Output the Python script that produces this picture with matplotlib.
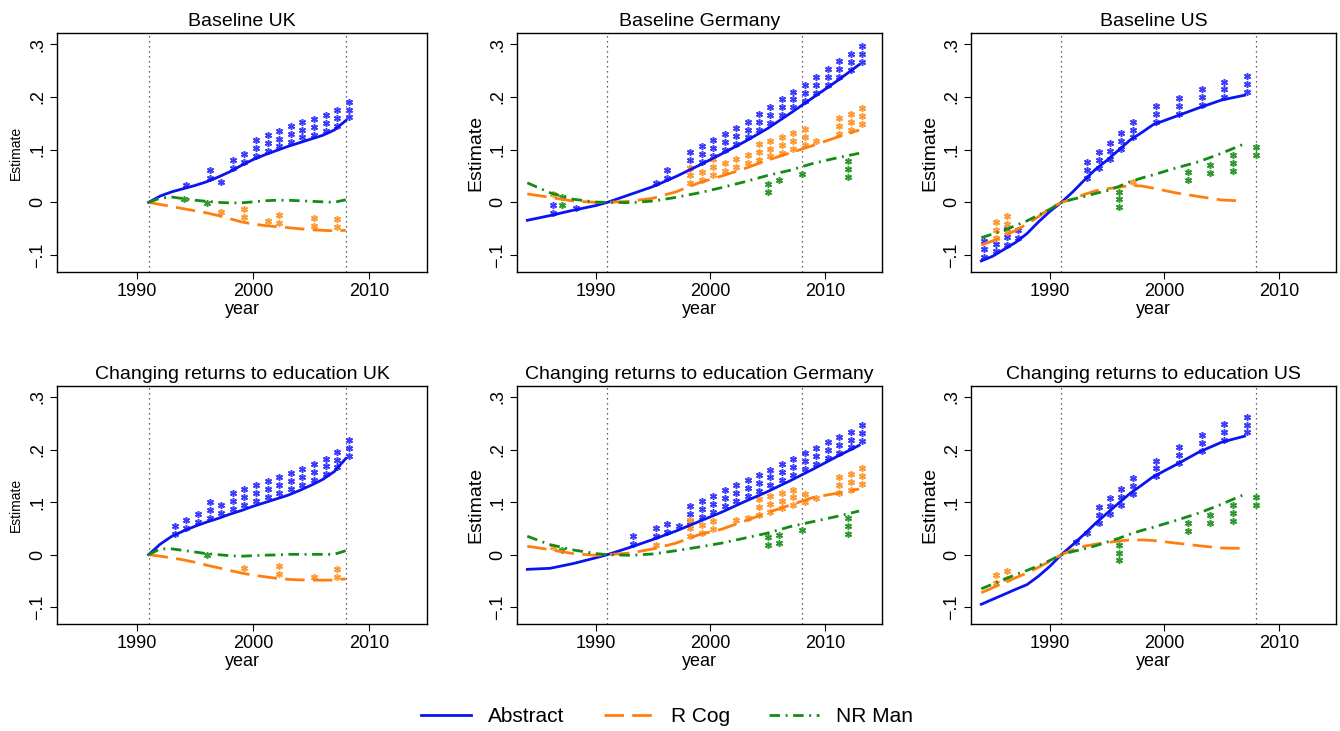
import matplotlib
matplotlib.use('Agg')
import matplotlib.pyplot as plt
from matplotlib.lines import Line2D
from matplotlib.ticker import FuncFormatter

plt.rcParams['font.family'] = ['Liberation Sans', 'DejaVu Sans']

# ---- data ----
series_names = ['Abstract', 'R Cog', 'NR Man']

# UK (1991-2008)
uk_years = [1991, 1992, 1993, 1994, 1995, 1996, 1997, 1998, 1999, 2000,
            2001, 2002, 2003, 2004, 2005, 2006, 2007, 2008]
uk_base_abs = [0, 0.012, 0.020, 0.026, 0.032, 0.039, 0.048, 0.058, 0.070, 0.081,
               0.090, 0.098, 0.106, 0.113, 0.120, 0.127, 0.137, 0.155]
uk_base_rcog = [0, -0.004, -0.008, -0.012, -0.016, -0.020, -0.025, -0.031, -0.037, -0.041,
                -0.044, -0.046, -0.048, -0.050, -0.052, -0.053, -0.054, -0.053]
uk_base_nrman = [0, 0.008, 0.010, 0.007, 0.004, 0.002, 0.000, -0.001, -0.001, 0.001,
                 0.003, 0.004, 0.004, 0.003, 0.002, 0.001, 0.000, 0.005]
uk_chg_abs = [0, 0.020, 0.035, 0.045, 0.054, 0.062, 0.069, 0.077, 0.084, 0.092,
              0.099, 0.106, 0.113, 0.122, 0.132, 0.143, 0.158, 0.183]
uk_chg_rcog = [0, -0.003, -0.006, -0.010, -0.0145, -0.020, -0.025, -0.030, -0.035, -0.039,
               -0.042, -0.045, -0.047, -0.048, -0.0485, -0.0485, -0.0485, -0.046]
uk_chg_nrman = [0, 0.011, 0.011, 0.008, 0.005, 0.002, 0.000, -0.002, -0.003, -0.002,
                -0.001, -0.0005, 0.0006, 0.0006, 0.0006, 0.0006, 0.0006, 0.0075]

# Germany (1984-2013)
de_years = [1984, 1986, 1988, 1990, 1991, 1993, 1995, 1997, 1999, 2001,
            2003, 2005, 2007, 2009, 2011, 2013]
de_base_abs = [-0.034, -0.025, -0.015, -0.006, 0, 0.015, 0.030, 0.049, 0.070, 0.092,
               0.115, 0.140, 0.169, 0.199, 0.229, 0.261]
de_base_rcog = [0.016, 0.0095, 0.0025, 0.000, 0, 0.002, 0.008, 0.020, 0.037, 0.050,
                0.064, 0.080, 0.094, 0.108, 0.123, 0.137]
de_base_nrman = [0.037, 0.018, 0.006, 0.0005, 0, -0.0006, 0.0025, 0.0095, 0.018, 0.028,
                 0.039, 0.051, 0.061, 0.074, 0.084, 0.093]
de_chg_abs = [-0.028, -0.026, -0.017, -0.006, 0, 0.014, 0.029, 0.045, 0.063, 0.081,
              0.101, 0.120, 0.141, 0.163, 0.186, 0.208]
de_chg_rcog = [0.016, 0.0095, 0.002, -0.0013, 0, 0.003, 0.011, 0.022, 0.038, 0.0485,
               0.064, 0.080, 0.0945, 0.109, 0.1165, 0.125]
de_chg_nrman = [0.035, 0.019, 0.009, 0.002, 0, -0.0013, 0.0013, 0.0076, 0.0145, 0.022,
                0.0315, 0.041, 0.0535, 0.063, 0.0725, 0.083]

# US (1984-2007)
us_years = [1984, 1985, 1986, 1987, 1988, 1989, 1990, 1991, 1992, 1993,
            1994, 1995, 1996, 1997, 1998, 1999, 2001, 2003, 2005, 2007]
us_base_abs = [-0.111, -0.102, -0.089, -0.076, -0.059, -0.037, -0.017, 0, 0.020, 0.042,
               0.063, 0.080, 0.099, 0.118, 0.132, 0.147, 0.163, 0.179, 0.194, 0.203]
us_base_rcog = [-0.081, -0.073, -0.064, -0.053, -0.041, -0.027, -0.011, 0, 0.006, 0.015,
                0.022, 0.026, 0.0285, 0.032, 0.031, 0.027, 0.018, 0.011, 0.0045, 0.0025]
us_base_nrman = [-0.067, -0.060, -0.053, -0.044, -0.035, -0.024, -0.013, 0, 0.006, 0.011,
                 0.017, 0.022, 0.030, 0.039, 0.046, 0.052, 0.065, 0.077, 0.093, 0.111]
us_chg_abs = [-0.0945, -0.085, -0.0756, -0.066, -0.057, -0.041, -0.022, 0, 0.019, 0.039,
              0.060, 0.079, 0.098, 0.1165, 0.132, 0.148, 0.171, 0.195, 0.214, 0.2255]
us_chg_rcog = [-0.0725, -0.063, -0.0535, -0.044, -0.035, -0.024, -0.0126, 0, 0.009, 0.016,
               0.020, 0.023, 0.026, 0.028, 0.028, 0.027, 0.022, 0.017, 0.0126, 0.012]
us_chg_nrman = [-0.065, -0.056, -0.047, -0.038, -0.030, -0.021, -0.011, 0, 0.006, 0.011,
                0.017, 0.024, 0.031, 0.039, 0.046, 0.052, 0.065, 0.079, 0.096, 0.1147]

# significance stars: (year, estimate of lowest star, number of stars)
uk_base_abs_stars = [(1994, 0.032, 1), (1996, 0.047, 2), (1997, 0.039, 1), (1998, 0.065, 2),
                     (1999, 0.076, 2), (2000, 0.088, 3), (2001, 0.097, 3), (2002, 0.106, 3),
                     (2003, 0.114, 3), (2004, 0.123, 3), (2005, 0.128, 3), (2006, 0.135, 3),
                     (2007, 0.145, 3), (2008, 0.161, 3)]
uk_base_rcog_stars = [(1997, -0.019, 1), (1999, -0.0285, 2), (2001, -0.036, 1),
                      (2002, -0.0387, 2), (2005, -0.044, 2), (2007, -0.047, 2)]
uk_base_nrman_stars = [(1994, 0.006, 1), (1996, -0.001, 1)]

uk_chg_abs_stars = [(1993, 0.040, 2), (1994, 0.050, 2), (1995, 0.062, 2), (1996, 0.070, 3),
                    (1997, 0.079, 2), (1998, 0.087, 3), (1999, 0.095, 3), (2000, 0.102, 3),
                    (2001, 0.110, 3), (2002, 0.117, 3), (2003, 0.125, 3), (2004, 0.133, 3),
                    (2005, 0.142, 3), (2006, 0.153, 3), (2007, 0.166, 3), (2008, 0.188, 3)]
uk_chg_rcog_stars = [(1999, -0.026, 1), (2002, -0.037, 2), (2005, -0.0416, 1), (2007, -0.042, 2)]
uk_chg_nrman_stars = [(1996, -0.001, 1)]

de_base_abs_stars = [(1986, -0.020, 2), (1988, -0.010, 1), (1995, 0.037, 1), (1996, 0.046, 2),
                     (1998, 0.066, 3), (1999, 0.076, 3), (2000, 0.088, 3), (2001, 0.100, 3),
                     (2002, 0.111, 3), (2003, 0.123, 3), (2004, 0.137, 3), (2005, 0.151, 3),
                     (2006, 0.165, 3), (2007, 0.180, 3), (2008, 0.193, 3), (2009, 0.208, 3),
                     (2010, 0.222, 3), (2011, 0.237, 3), (2012, 0.251, 3), (2013, 0.266, 3)]
de_base_rcog_stars = [(1986, 0.015, 1), (1998, 0.036, 3), (1999, 0.042, 2), (2000, 0.052, 3),
                      (2001, 0.059, 2), (2002, 0.067, 2), (2003, 0.074, 2), (2004, 0.080, 3),
                      (2005, 0.087, 3), (2006, 0.094, 3), (2007, 0.101, 3), (2008, 0.109, 3),
                      (2009, 0.116, 1), (2011, 0.130, 3), (2012, 0.137, 3), (2013, 0.148, 3)]
de_base_nrman_stars = [(1987, -0.005, 2), (2005, 0.019, 2), (2006, 0.042, 1), (2008, 0.054, 1),
                       (2012, 0.048, 3)]

de_chg_abs_stars = [(1993, 0.020, 2), (1995, 0.035, 2), (1996, 0.044, 2), (1997, 0.054, 1),
                    (1998, 0.063, 3), (1999, 0.072, 3), (2000, 0.082, 3), (2001, 0.093, 3),
                    (2002, 0.102, 3), (2003, 0.112, 3), (2004, 0.121, 3), (2005, 0.132, 3),
                    (2006, 0.142, 3), (2007, 0.152, 3), (2008, 0.163, 3), (2009, 0.173, 3),
                    (2010, 0.184, 3), (2011, 0.193, 3), (2012, 0.204, 3), (2013, 0.216, 3)]
de_chg_rcog_stars = [(1986, 0.014, 1), (1995, 0.018, 1), (1998, 0.035, 3), (1999, 0.042, 2),
                     (2000, 0.049, 2), (2002, 0.065, 1), (2003, 0.069, 1), (2004, 0.076, 3),
                     (2005, 0.081, 3), (2006, 0.088, 3), (2007, 0.094, 3), (2008, 0.0995, 2),
                     (2009, 0.107, 1), (2011, 0.118, 3), (2012, 0.124, 3), (2013, 0.134, 3)]
de_chg_nrman_stars = [(1987, 0.009, 1), (2005, 0.018, 2), (2006, 0.022, 2), (2008, 0.047, 1),
                      (2012, 0.039, 3)]

us_base_abs_stars = [(1984, -0.104, 3), (1985, -0.093, 2), (1986, -0.081, 3), (1987, -0.068, 2),
                     (1993, 0.047, 3), (1994, 0.066, 3), (1995, 0.083, 3), (1996, 0.102, 3),
                     (1997, 0.123, 3), (1999, 0.152, 3), (2001, 0.168, 3), (2003, 0.185, 3),
                     (2005, 0.199, 3), (2007, 0.209, 3)]
us_base_rcog_stars = [(1985, -0.068, 3), (1986, -0.056, 3), (1997, 0.039, 1)]
us_base_nrman_stars = [(1996, -0.0095, 3), (2002, 0.042, 2), (2004, 0.056, 2), (2006, 0.059, 3),
                       (2008, 0.089, 2)]

us_chg_abs_stars = [(1992, 0.025, 1), (1993, 0.042, 1), (1994, 0.060, 3), (1995, 0.0775, 3),
                    (1996, 0.095, 3), (1997, 0.115, 3), (1999, 0.149, 3), (2001, 0.1745, 3),
                    (2003, 0.197, 3), (2005, 0.219, 3), (2007, 0.2325, 3)]
us_chg_rcog_stars = [(1985, -0.054, 2), (1986, -0.046, 2)]
us_chg_nrman_stars = [(1996, -0.011, 3), (2002, 0.045, 2), (2004, 0.0605, 2), (2006, 0.064, 3),
                      (2008, 0.0945, 2)]

titles = ['Baseline UK', 'Baseline Germany', 'Baseline US',
          'Changing returns to education UK', 'Changing returns to education Germany',
          'Changing returns to education US']
break_years = [1991, 2008]

# ---- styles ----
line_colors = ['#0a14f0', '#ff7f0e', '#148c14']
star_colors = ['#3c3cff', '#ff9933', '#2e9a2e']
line_styles = ['-', (0, (7, 3)), (0, (3.8, 2.0, 0.7, 2.0))]
star_dx = [0.25, 0.25, 0.03]
star_step = 0.015

panels = [
    (uk_years, [uk_base_abs, uk_base_rcog, uk_base_nrman],
     [uk_base_abs_stars, uk_base_rcog_stars, uk_base_nrman_stars]),
    (de_years, [de_base_abs, de_base_rcog, de_base_nrman],
     [de_base_abs_stars, de_base_rcog_stars, de_base_nrman_stars]),
    (us_years, [us_base_abs, us_base_rcog, us_base_nrman],
     [us_base_abs_stars, us_base_rcog_stars, us_base_nrman_stars]),
    (uk_years, [uk_chg_abs, uk_chg_rcog, uk_chg_nrman],
     [uk_chg_abs_stars, uk_chg_rcog_stars, uk_chg_nrman_stars]),
    (de_years, [de_chg_abs, de_chg_rcog, de_chg_nrman],
     [de_chg_abs_stars, de_chg_rcog_stars, de_chg_nrman_stars]),
    (us_years, [us_chg_abs, us_chg_rcog, us_chg_nrman],
     [us_chg_abs_stars, us_chg_rcog_stars, us_chg_nrman_stars]),
]

W, H = 1340, 731
fig = plt.figure(figsize=(W / 100, H / 100), dpi=100)

col_x = [(57, 427), (517, 882), (971, 1336)]
row_y = [(33, 272), (386, 624)]


def ytick_fmt(v, pos):
    if abs(v) < 1e-9:
        return '0'
    s = ('%.1f' % abs(v)).lstrip('0')
    return ('\u2212' if v < 0 else '') + s


for i, (years, lines, stars) in enumerate(panels):
    r, c = divmod(i, 3)
    x0, x1 = col_x[c]
    y0, y1 = row_y[r]
    ax = fig.add_axes([x0 / W, 1 - y1 / H, (x1 - x0) / W, (y1 - y0) / H])

    for bx in break_years:
        ax.axvline(bx, color='#333333', lw=0.9, ls=(0, (1, 3)), zorder=1)

    for k in range(3):
        xs, ys = [], []
        for yr, base, n in stars[k]:
            for j in range(n):
                xs.append(yr + star_dx[k])
                ys.append(base + j * star_step)
        ax.plot(xs, ys, ls='none', marker=(6, 2, 0), ms=5.0, mew=1.1,
                mec=star_colors[k], mfc=star_colors[k], zorder=2)

    for k in range(3):
        ax.plot(years, lines[k], color=line_colors[k], ls=line_styles[k],
                lw=2.0, zorder=3, dash_capstyle='butt')

    ax.set_xlim(1983.1, 2015.0)
    ax.set_ylim(-0.132, 0.321)
    ax.set_xticks([1990, 2000, 2010])
    ax.set_yticks([-0.1, 0, 0.1, 0.2, 0.3])
    ax.yaxis.set_major_formatter(FuncFormatter(ytick_fmt))
    ax.tick_params(axis='both', direction='out', length=5, width=0.8,
                   labelsize=13, pad=3)
    for lab in ax.get_yticklabels():
        lab.set_rotation(90)
        lab.set_va('center')
    for sp in ax.spines.values():
        sp.set_linewidth(1.0)
    ax.set_title(titles[i], fontsize=14, pad=5)
    ax.set_xlabel('year', fontsize=13, labelpad=1)
    if c == 0:
        ax.set_ylabel('Estimate', fontsize=10, labelpad=4)
    else:
        ax.set_ylabel('Estimate', fontsize=14, labelpad=3)

handles = [Line2D([], [], color=line_colors[k], ls=line_styles[k], lw=2.0)
           for k in range(3)]
fig.legend(handles, series_names, loc='center', bbox_to_anchor=(0.498, 1 - 717 / H),
           ncol=3, frameon=False, fontsize=15, handlelength=2.4,
           handletextpad=0.8, columnspacing=1.9)

fig.savefig('out.png', dpi=100)
